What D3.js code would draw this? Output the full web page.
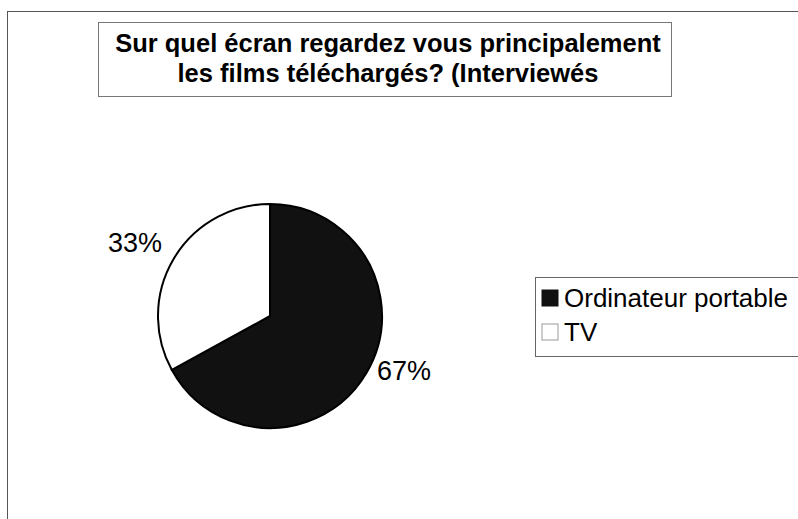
<!DOCTYPE html>
<html>
<head>
<meta charset="utf-8">
<script src="https://cdn.jsdelivr.net/npm/d3@7"></script>
<style>
	body { margin: 0; background: #fff; }
	svg { display: block; font-family: Arial, "Liberation Sans", sans-serif; }
</style>
</head>
<body>
<div id="chart"></div>
<script>
var categories = ["Ordinateur portable", "TV"],
	values = [67, 33],
	labels = ["67%", "33%"],
	colors = ["#111111", "#ffffff"],
	titleLines = ["Sur quel écran regardez vous principalement", "les films téléchargés? (Interviewés"];

var width = 798,
	height = 519,
	cx = 270,
	cy = 316,
	radius = 112;

var svg = d3.select("#chart")
	.append("svg")
	.attr("width", width)
	.attr("height", height);

// outer frame
svg.append("rect")
	.attr("x", 7.5)
	.attr("y", 11.5)
	.attr("width", 810)
	.attr("height", 530)
	.attr("fill", "none")
	.attr("stroke", "#555")
	.attr("stroke-width", 1);

// title box
svg.append("rect")
	.attr("x", 98.5)
	.attr("y", 22.5)
	.attr("width", 573)
	.attr("height", 74)
	.attr("fill", "#fff")
	.attr("stroke", "#777")
	.attr("stroke-width", 1);

svg.selectAll(".title")
	.data(titleLines)
	.enter().append("text")
	.attr("class", "title")
	.attr("x", 388)
	.attr("y", function(d, i) { return 52 + i * 30; })
	.attr("text-anchor", "middle")
	.attr("font-size", "25.5px")
	.attr("font-weight", "bold")
	.attr("fill", "#000")
	.text(function(d) { return d; });

var pie = d3.pie()
	.sort(null)
	.value(function(d) { return d; });

var arc = d3.arc()
	.innerRadius(0)
	.outerRadius(radius);

var g = svg.append("g")
	.attr("transform", "translate(" + cx + "," + cy + ")");

var arcs = pie(values);

g.selectAll("path")
	.data(arcs)
	.enter().append("path")
	.attr("d", arc)
	.attr("fill", function(d, i) { return colors[i]; })
	.attr("stroke", "#000")
	.attr("stroke-width", 2);

// percentage labels, placed outside the slices
var labelPos = [[134, 64], [-135, -64]];

g.selectAll(".pct")
	.data(arcs)
	.enter().append("text")
	.attr("class", "pct")
	.attr("x", function(d, i) { return labelPos[i][0]; })
	.attr("y", function(d, i) { return labelPos[i][1]; })
	.attr("text-anchor", "middle")
	.attr("font-size", "27px")
	.attr("fill", "#000")
	.text(function(d, i) { return labels[i]; });

// legend
var legend = svg.append("g");

legend.append("rect")
	.attr("x", 535.5)
	.attr("y", 277.5)
	.attr("width", 280)
	.attr("height", 79)
	.attr("fill", "#fff")
	.attr("stroke", "#666")
	.attr("stroke-width", 1);

var items = legend.selectAll(".item")
	.data(categories)
	.enter().append("g")
	.attr("class", "item")
	.attr("transform", function(d, i) { return "translate(542," + (288 + i * 34) + ")"; });

items.append("rect")
	.attr("width", 16)
	.attr("height", 16)
	.attr("y", 2)
	.attr("fill", function(d, i) { return colors[i]; })
	.attr("stroke", function(d, i) { return i ? "#999" : "#111"; })
	.attr("stroke-width", 1);

items.append("text")
	.attr("x", 22)
	.attr("y", 19)
	.attr("font-size", "26px")
	.attr("fill", "#000")
	.text(function(d) { return d; });
</script>
</body>
</html>
